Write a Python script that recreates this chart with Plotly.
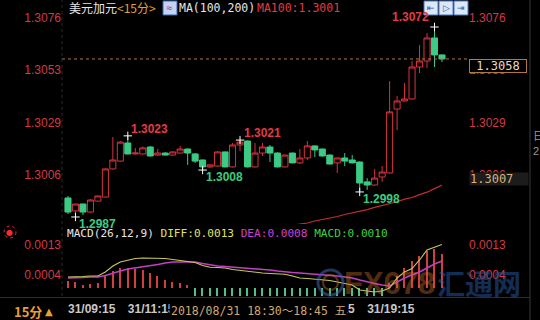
import plotly.graph_objects as go

# ---------------- data ----------------
open_ = [1.29955,1.29897,1.29928,1.29892,1.29941,1.29959,1.30085,1.30120,1.30201,1.30152,
         1.30152,1.30183,1.30147,1.30156,1.30147,1.30156,1.30174,1.30152,1.30125,1.30094,
         1.30098,1.30161,1.30094,1.30192,1.30210,1.30094,1.30156,1.30183,1.30156,1.30094,
         1.30156,1.30112,1.30134,1.30188,1.30174,1.30147,1.30112,1.30134,1.30125,1.30116,
         1.30027,1.30013,1.30049,1.30067,1.30353,1.30389,1.30398,1.30541,1.30568,1.30671,1.30595]
high = [1.29964,1.29928,1.29930,1.29950,1.29966,1.30087,1.30228,1.30210,1.30233,1.30179,
        1.30185,1.30188,1.30174,1.30160,1.30163,1.30188,1.30176,1.30156,1.30127,1.30103,
        1.30163,1.30163,1.30201,1.30214,1.30212,1.30201,1.30201,1.30192,1.30160,1.30150,
        1.30158,1.30174,1.30210,1.30190,1.30176,1.30150,1.30136,1.30156,1.30147,1.30118,
        1.30044,1.30085,1.30098,1.30478,1.30411,1.30469,1.30568,1.30639,1.30693,1.30720,1.30597]
low = [1.29883,1.29870,1.29879,1.29890,1.29939,1.29957,1.30083,1.30118,1.30150,1.30150,
       1.30150,1.30140,1.30145,1.30145,1.30145,1.30154,1.30103,1.30112,1.30080,1.30090,
       1.30096,1.30092,1.30092,1.30165,1.30092,1.30092,1.30143,1.30116,1.30092,1.30092,
       1.30110,1.30107,1.30125,1.30138,1.30140,1.30105,1.30067,1.30098,1.30110,1.29982,
       1.29991,1.30011,1.30027,1.30065,1.30259,1.30387,1.30396,1.30514,1.30537,1.30541,1.30563]
close = [1.29892,1.29928,1.29892,1.29946,1.29964,1.30085,1.30125,1.30205,1.30152,1.30156,
         1.30179,1.30143,1.30156,1.30147,1.30161,1.30174,1.30156,1.30120,1.30094,1.30103,
         1.30161,1.30094,1.30192,1.30205,1.30094,1.30156,1.30183,1.30156,1.30094,1.30147,
         1.30112,1.30134,1.30188,1.30170,1.30143,1.30107,1.30134,1.30120,1.30112,1.30022,
         1.30013,1.30044,1.30071,1.30340,1.30389,1.30398,1.30541,1.30568,1.30671,1.30595,1.30577]
ma100 = [None]*27 + [1.29815,1.29822,1.29828,1.29833,1.29838,1.29843,1.29852,1.29858,1.29865,
                     1.29872,1.29881,1.29888,1.29896,1.29903,1.29913,1.29921,1.29930,1.29938,
                     1.29950,1.29957,1.29970,1.29981,1.29997,1.30013]
# MACD values in units of 0.0001
diff_e4 = [3.28,3.28,3.43,3.58,3.58,4.78,6.57,7.76,8.36,8.81,
           8.96,8.96,8.96,8.81,8.51,8.21,7.91,7.61,6.72,6.21,
           6.12,5.97,5.52,5.22,4.93,4.63,4.48,4.33,4.18,4.12,
           3.58,2.99,2.84,2.69,2.48,2.24,1.79,1.34,0.90,-0.60,
           -0.90,-1.19,-0.90,0.00,2.99,4.78,5.82,8.36,11.34,12.2,13.0]
dea_e4 = [2.99,2.99,3.13,3.28,3.28,3.73,4.48,5.07,5.67,5.97,
          6.42,6.72,7.01,7.46,7.76,7.76,7.76,7.76,7.31,6.87,
          6.57,6.42,6.27,5.97,5.97,5.82,5.52,5.37,5.07,4.78,
          4.63,4.48,4.33,4.18,3.88,3.73,3.58,3.28,2.99,2.39,
          1.79,1.34,0.90,0.60,1.79,2.99,3.88,4.78,5.97,7.16,8.06]
hist_e4 = [2.1,1.8,0.9,1.2,1.5,3.6,5.1,6.0,6.0,5.7,5.4,4.5,3.6,2.4,1.8,1.5,0.9,
           -2.4,-2.5,-2.6,-2.7,-2.8,-2.9,-3.0,-3.1,-3.2,-3.3,-3.3,-3.4,-3.5,-3.6,-3.6,
           -3.7,-3.8,-3.9,-4.0,-4.2,-4.4,-4.6,-4.8,-5.0,-4.6,-3.8,
           1.5,3.5,6.0,8.0,9.5,11.0,11.5,10.0]
diff = [v * 1e-4 for v in diff_e4]
dea = [v * 1e-4 for v in dea_e4]
hist = [v * 1e-4 for v in hist_e4]

price_ticks = [1.3006, 1.3029, 1.3053, 1.3076]
price_ticktext = ["1.3006", "1.3029", "1.3053", "1.3076"]
macd_ticks = [0.0004, 0.0013]
macd_ticktext = ["0.0004", "0.0013"]
time_tick_idx = [0, 8, 16, 24, 32, 40]
time_ticktext = ["31/09:15", "31/11:15", "31/13:15", "31/15:15", "31/17:15", "31/19:15"]
high_marks = [8, 23, 49]
low_marks = [1, 18, 39]
cursor_idx = 37
cursor_label = "2018/08/31 18:30～18:45 五"
cursor_price = "1.3007"
title_name = "美元加元"
title_period = "<15分>"

idx = list(range(len(open_)))

# ---------------- layout helpers ----------------
W, H = 540, 320
L, R, T, B = 62, 72, 0, 24
PW, PH = W - L - R, H - T - B
def px(x): return (x - L) / PW
def py(y): return (H - B - y) / PH
split = 224

RED = "#d8343c"
GREEN = "#3dca84"
AXRED = "#d23a44"
BG = "#000000"

fig = go.Figure()
fig.add_trace(go.Candlestick(
    x=idx, open=open_, high=high, low=low, close=close,
    increasing=dict(line=dict(color=RED, width=1), fillcolor=BG),
    decreasing=dict(line=dict(color=GREEN, width=1), fillcolor=GREEN),
    whiskerwidth=0, xaxis="x", yaxis="y", showlegend=False, hoverinfo="skip"))
fig.add_trace(go.Scatter(x=idx, y=ma100, mode="lines", line=dict(color="#c03030", width=1.2),
                         xaxis="x", yaxis="y", showlegend=False, hoverinfo="skip"))
# extreme markers
fig.add_trace(go.Scatter(
    x=high_marks + low_marks, y=[high[i] for i in high_marks] + [low[i] for i in low_marks],
    mode="markers", marker=dict(symbol="cross-thin", size=6, line=dict(color="white", width=1)),
    xaxis="x", yaxis="y", showlegend=False, hoverinfo="skip", cliponaxis=False))
# hidden traces for right-hand axes
fig.add_trace(go.Scatter(x=idx, y=close, mode="lines", line=dict(color="rgba(0,0,0,0)", width=0),
                         xaxis="x", yaxis="y3", showlegend=False, hoverinfo="skip"))
# MACD
fig.add_trace(go.Bar(x=idx, y=hist, width=0.2,
                     marker=dict(color=["#d04040" if v >= 0 else "#50c088" for v in hist], line=dict(width=0)),
                     xaxis="x2", yaxis="y2", showlegend=False, hoverinfo="skip"))
fig.add_trace(go.Scatter(x=idx, y=dea, mode="lines", line=dict(color="#c040c0", width=1.5),
                         xaxis="x2", yaxis="y2", showlegend=False, hoverinfo="skip"))
fig.add_trace(go.Scatter(x=idx, y=diff, mode="lines", line=dict(color="#c8c85a", width=1.1),
                         xaxis="x2", yaxis="y2", showlegend=False, hoverinfo="skip"))
fig.add_trace(go.Scatter(x=idx, y=diff, mode="lines", line=dict(color="rgba(0,0,0,0)", width=0),
                         xaxis="x2", yaxis="y4", showlegend=False, hoverinfo="skip"))

tickfont_red = dict(family="Liberation Sans, Arial", size=12, color=AXRED)
x_range = [-0.8, 53.48]
price_range = [1.298386, 1.308408]
macd_range = [-2.39e-4, 19.1e-4]

fig.update_layout(
    width=W, height=H, margin=dict(l=L, r=R, t=T, b=B),
    paper_bgcolor=BG, plot_bgcolor=BG, boxgap=0.1, boxgroupgap=0.1, bargap=0,
    xaxis=dict(domain=[0, 1], anchor="y", range=x_range, showticklabels=False, showgrid=False,
               zeroline=False, rangeslider=dict(visible=False), ticks=""),
    xaxis2=dict(domain=[0, 1], anchor="y2", matches="x", range=x_range, showgrid=False, zeroline=False,
                tickmode="array", tickvals=time_tick_idx, ticktext=time_ticktext, ticks="",
                ticklabelposition="outside right", ticklabelstandoff=4,
                tickfont=dict(family="Liberation Sans, Arial", size=12, color="#c8c8c8", weight="bold")),
    yaxis=dict(domain=[py(split), 1], anchor="x", range=price_range, tickmode="array",
               tickvals=price_ticks, ticktext=price_ticktext, showgrid=False, zeroline=False,
               ticks="", tickfont=tickfont_red),
    yaxis3=dict(overlaying="y", side="right", anchor="x", matches="y", range=price_range, tickmode="array",
                tickvals=price_ticks, ticktext=price_ticktext, showgrid=False, zeroline=False,
                ticks="", tickfont=tickfont_red),
    yaxis2=dict(domain=[0, py(split)], anchor="x2", range=macd_range, tickmode="array",
                tickvals=macd_ticks, ticktext=macd_ticktext, showgrid=False, zeroline=False,
                ticks="", tickfont=tickfont_red),
    yaxis4=dict(overlaying="y2", side="right", anchor="x2", matches="y2", range=macd_range, tickmode="array",
                tickvals=macd_ticks, ticktext=macd_ticktext, showgrid=False, zeroline=False,
                ticks="", tickfont=tickfont_red),
)

shapes = []
# current price dashed line
shapes.append(dict(type="line", xref="paper", yref="y", x0=0, x1=1, y0=close[-1], y1=close[-1],
                   line=dict(color="#b07840", width=1, dash="3px,3px")))
# left axis dotted line
shapes.append(dict(type="line", xref="paper", yref="paper", x0=0, x1=0, y0=0, y1=1,
                   line=dict(color="#2a2a2a", width=1, dash="dot")))
# right border
shapes.append(dict(type="line", xref="paper", yref="paper", x0=px(530), x1=px(530), y0=py(320), y1=py(0),
                   line=dict(color="#3a3a3a", width=1)))
# bottom band separator
shapes.append(dict(type="line", xref="paper", yref="paper", x0=px(0), x1=px(530), y0=py(297.5), y1=py(297.5),
                   line=dict(color="#2e2e2e", width=1)))
# header icon
shapes.append(dict(type="rect", xref="paper", yref="paper", x0=px(163), x1=px(177), y0=py(15), y1=py(1),
                   fillcolor="#c4d4f0", line=dict(color="#3a64b4", width=1)))
# top right tool icons
for a in (424, 439, 454):
    shapes.append(dict(type="rect", xref="paper", yref="paper", x0=px(a), x1=px(a + 14), y0=py(15), y1=py(1),
                       fillcolor="#dce8f8", line=dict(color="#4a78c0", width=1)))
# red dot ring icon
shapes.append(dict(type="circle", xref="paper", yref="paper", x0=px(4), x1=px(16), y0=py(238), y1=py(226),
                   line=dict(color="#e03030", width=1, dash="dot")))
# watermark logo ring
shapes.append(dict(type="circle", xref="paper", yref="paper", x0=px(318), x1=px(343), y0=py(295), y1=py(270),
                   line=dict(color="rgba(60,100,170,0.55)", width=3)))
shapes.append(dict(type="circle", xref="paper", yref="paper", x0=px(323), x1=px(338), y0=py(290), y1=py(275),
                   line=dict(color="rgba(200,110,40,0.45)", width=2)))
fig.update_layout(shapes=shapes)

MONO = "DejaVu Sans Mono, monospace"
CJK = "Noto Sans CJK SC"
ann = []
def A(x, y, text, **kw):
    d = dict(xref="paper", yref="paper", x=px(x), y=py(y), text=text, showarrow=False,
             xanchor="left", yanchor="middle")
    d.update(kw)
    ann.append(d)

A(67, 8, title_name, font=dict(family=CJK, size=12, color="#e6e6e6"))
A(115, 8, title_period, font=dict(family=CJK, size=12, color="#e0a040"))
A(164, 8, "≈", font=dict(family=MONO, size=10, color="#b03090"))
A(177, 8, "MA(100,200)", font=dict(family=MONO, size=11.5, color="#e6e6e6"))
A(255, 8, f"MA100:{ma100[-1]:.4f}", font=dict(family=MONO, size=11.5, color="#e03c44"))
for a, g in zip((424, 439, 454), ("⇤", "▷", "⇥")):
    A(a + 7, 8, g, xanchor="center", font=dict(family="DejaVu Sans", size=9, color="#2d5aa8"))

A(65, 233, (f'<span style="color:#e6e6e6">MACD(26,12,9)</span> '
            f'<span style="color:#e0e060">DIFF:{diff[-1]:.4f}</span> '
            f'<span style="color:#d040d0">DEA:{dea[-1]:.4f}</span> '
            f'<span style="color:#40d040">MACD:{hist[-1]:.4f}</span>'),
  font=dict(family=MONO, size=11.1, color="#e6e6e6"))
A(10, 232, "●", xanchor="center", font=dict(family="DejaVu Sans", size=8, color="#ff2a2a"))

# price boxes on the right
ann.append(dict(xref="paper", yref="y", x=px(469), y=close[-1], yanchor="top", xanchor="left",
                text=f"{close[-1]:.4f}", showarrow=False, bgcolor=BG, bordercolor="#b07840",
                borderwidth=1, borderpad=0, width=56, height=12,
                font=dict(family=MONO, size=12, color="#e8dcc0")))
A(469, 179, cursor_price, bgcolor="#1c1c1c", borderpad=0, width=58, height=12, align="left",
  font=dict(family=MONO, size=12, color="#d8b078"))
A(531, 135, "日", font=dict(family=CJK, size=11, color="#9a9a9a"))
A(531, 151, "2", font=dict(family="Liberation Sans", size=11, color="#9a9a9a"))

# extreme labels
for i in high_marks:
    shift = (-24, 10) if i == high_marks[-1] else (22, 7)
    ann.append(dict(xref="x", yref="y", x=i, y=high[i], text=f"{high[i]:.4f}", showarrow=False,
                    xshift=shift[0], yshift=shift[1],
                    font=dict(family="Liberation Sans, Arial", size=12, color="#e03c44", weight="bold")))
for i in low_marks:
    ann.append(dict(xref="x", yref="y", x=i, y=low[i], text=f"{low[i]:.4f}", showarrow=False,
                    xshift=22, yshift=-7,
                    font=dict(family="Liberation Sans, Arial", size=12, color="#3ccc80", weight="bold")))

# watermark
A(342, 283, "FX678", font=dict(family="Liberation Sans", size=31, color="rgba(200,110,40,0.42)", weight="bold"))
A(435, 283, "汇通网", font=dict(family=CJK, size=28, color="rgba(40,90,170,0.5)", weight="bold"))

# bottom band
A(12, 311, "15分", font=dict(family=CJK, size=13, color="#e8a030", weight="bold"))
A(43, 311, "▲", font=dict(family="DejaVu Sans", size=10, color="#e8a030"))
ann.append(dict(xref="x", yref="paper", x=cursor_idx, y=py(311), xanchor="right", yanchor="middle",
                xshift=3, text=cursor_label, showarrow=False, bgcolor=BG, borderpad=1,
                font=dict(family=MONO + ", Noto Sans CJK SC", size=11.5, color="#d2a870")))
fig.update_layout(annotations=ann)

fig.write_html("out.html")
